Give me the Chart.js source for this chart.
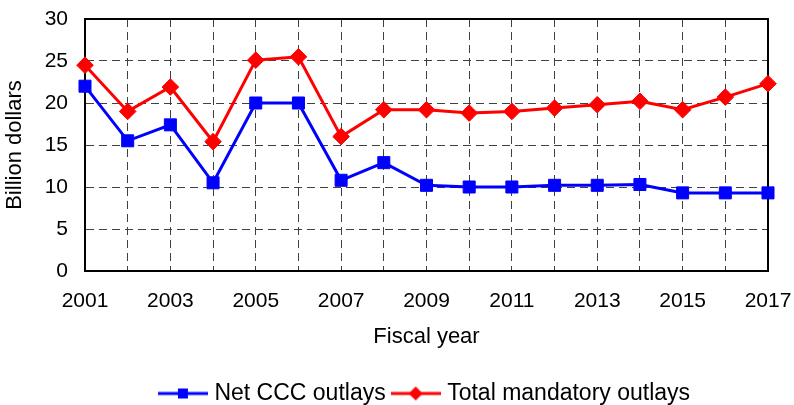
<!DOCTYPE html>
<html>
<head>
<meta charset="utf-8">
<script src="https://cdn.jsdelivr.net/npm/chart.js@4/dist/chart.umd.min.js"></script>
<style>
  html, body { margin: 0; padding: 0; background: #ffffff; }
  canvas { display: block; }
</style>
</head>
<body>
<canvas id="chart" width="794" height="405"></canvas>
<script>
// Fiscal years on the x axis
const years = ['2001','2002','2003','2004','2005','2006','2007','2008','2009',
               '2010','2011','2012','2013','2014','2015','2016','2017'];
// Years that carry a tick label
const labeledYears = ['2001','2003','2005','2007','2009','2011','2013','2015','2017'];
// Outlays, billion dollars
const netCCC = [22.0, 15.5, 17.4, 10.5, 20.0, 20.0, 10.8, 12.9, 10.2,
                10.0, 10.0, 10.2, 10.2, 10.3, 9.3, 9.3, 9.3];
const totalMandatory = [24.5, 19.0, 21.9, 15.4, 25.1, 25.5, 16.0, 19.2, 19.2,
                        18.8, 19.0, 19.4, 19.8, 20.2, 19.2, 20.7, 22.3];
const yMin = 0, yMax = 30, yStep = 5;

const FONT = '"Liberation Sans", Arial, Helvetica, sans-serif';
const BLUE = '#0000ff';
const RED = '#ff0000';

// Legend swatch: a short line segment with the series marker on it
function legendIcon(color, shape) {
  const c = document.createElement('canvas');
  c.width = 50; c.height = 16;
  const g = c.getContext('2d');
  g.strokeStyle = color; g.lineWidth = 3;
  g.beginPath(); g.moveTo(0, 8); g.lineTo(50, 8); g.stroke();
  g.fillStyle = color;
  if (shape === 'square') {
    g.fillRect(20, 3, 10, 10);
  } else {
    g.beginPath();
    g.moveTo(25, 1); g.lineTo(32, 8); g.lineTo(25, 15); g.lineTo(18, 8);
    g.closePath(); g.fill();
  }
  return c;
}

// Solid black frame round the plotting area
const frame = {
  id: 'frame',
  beforeDatasetsDraw(chart) {
    const { ctx, chartArea: a } = chart;
    ctx.save();
    ctx.strokeStyle = '#000';
    ctx.lineWidth = 2;
    ctx.strokeRect(a.left, a.top, a.right - a.left, a.bottom - a.top);
    ctx.restore();
  }
};

// Keep the plotting area exactly where the layout padding puts it
function noScalePadding(scale) {
  scale.paddingTop = 0; scale.paddingBottom = 0;
  scale.paddingLeft = 0; scale.paddingRight = 0;
}

new Chart(document.getElementById('chart'), {
  type: 'line',
  data: {
    labels: years,
    datasets: [
      {
        label: 'Net CCC outlays',
        data: netCCC,
        borderColor: BLUE,
        backgroundColor: BLUE,
        borderWidth: 3,
        pointStyle: 'rect',
        pointRadius: 8.5,
        pointBorderWidth: 1,
        pointBackgroundColor: BLUE,
        pointBorderColor: BLUE,
        tension: 0,
        clip: false
      },
      {
        label: 'Total mandatory outlays',
        data: totalMandatory,
        borderColor: RED,
        backgroundColor: RED,
        borderWidth: 3,
        pointStyle: 'rectRot',
        pointRadius: 8.3,
        pointBorderWidth: 1,
        pointBackgroundColor: RED,
        pointBorderColor: RED,
        tension: 0,
        clip: false
      }
    ]
  },
  options: {
    responsive: false,
    animation: false,
    layout: { padding: { top: 19, right: 26, left: 0, bottom: -10 } },
    plugins: {
      tooltip: { enabled: false },
      legend: {
        position: 'bottom',
        fullSize: false,
        labels: {
          usePointStyle: true,
          pointStyleWidth: 40,
          padding: 10,
          color: '#000',
          font: { family: FONT, size: 23 },
          generateLabels(chart) {
            return chart.data.datasets.map((ds, i) => ({
              text: ds.label,
              fillStyle: ds.borderColor,
              strokeStyle: ds.borderColor,
              lineWidth: 0,
              pointStyle: legendIcon(ds.borderColor, i === 0 ? 'square' : 'diamond'),
              hidden: false,
              datasetIndex: i,
              fontColor: '#000'
            }));
          }
        }
      }
    },
    scales: {
      x: {
        type: 'category',
        offset: false,
        grid: { color: '#404040', lineWidth: 1, drawTicks: false },
        border: { display: true, color: '#000', width: 2, dash: [8, 5] },
        ticks: {
          autoSkip: false,
          maxRotation: 0,
          padding: 18,
          color: '#000',
          font: { family: FONT, size: 21 },
          callback(value) {
            const y = this.getLabelForValue(value);
            return labeledYears.includes(y) ? y : '';
          }
        },
        title: {
          display: true,
          text: 'Fiscal year',
          color: '#000',
          font: { family: FONT, size: 22 },
          padding: { top: 10, bottom: 22 }
        },
        afterFit(scale) { noScalePadding(scale); scale.height = 101; }
      },
      y: {
        min: yMin,
        max: yMax,
        grid: { color: '#404040', lineWidth: 1, drawTicks: false },
        border: { display: true, color: '#000', width: 2, dash: [8, 5] },
        ticks: {
          stepSize: yStep,
          padding: 17,
          color: '#000',
          font: { family: FONT, size: 21 }
        },
        title: {
          display: true,
          text: 'Billion dollars',
          color: '#000',
          font: { family: FONT, size: 22 },
          padding: { top: 2, bottom: 0 }
        },
        afterFit(scale) { noScalePadding(scale); scale.width = 85; }
      }
    }
  },
  plugins: [frame]
});
</script>
</body>
</html>
